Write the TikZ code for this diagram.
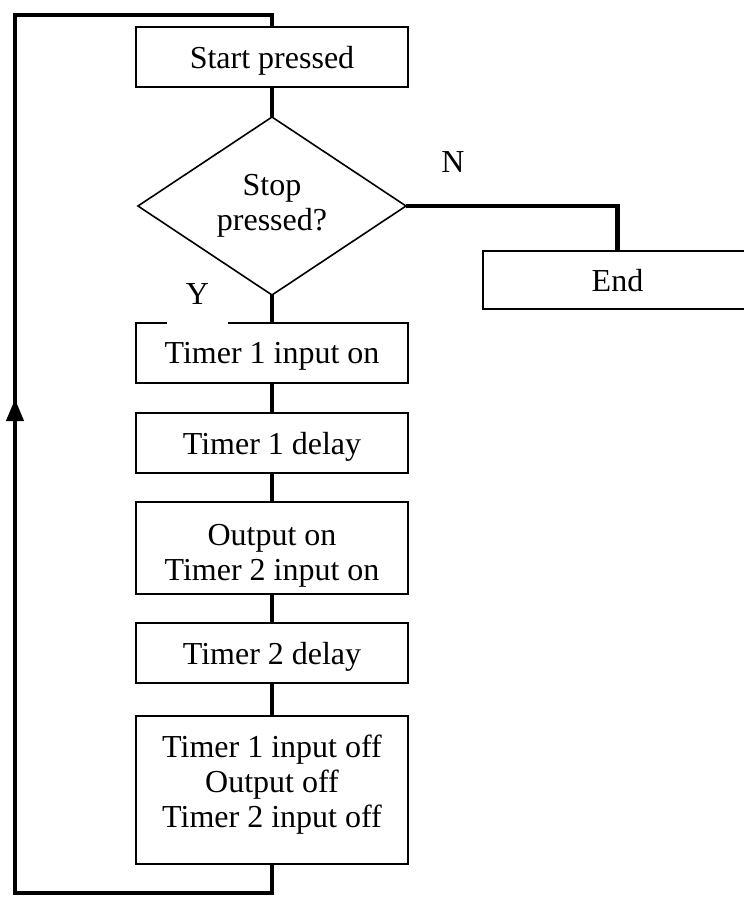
\documentclass[tikz,border=0pt]{standalone}
\usepackage{fontspec}
\setmainfont{Liberation Serif}
\usetikzlibrary{shapes.geometric,arrows.meta}
% multi-line box text, first baseline shifted by #1 from the box centre
\newcommand\boxlines[2]{\raisebox{#1}[0pt][0pt]{\begin{tabular}[t]{@{}c@{}}#2\end{tabular}}}
\begin{document}
\begin{tikzpicture}[x=1pt,y=-1pt,
  every node/.style={font=\fontsize{32}{35}\selectfont, inner sep=0pt, outer sep=0pt},
  stepbox/.style={draw, line width=1.8pt, minimum width=272pt, minimum height=60pt, text depth=0pt},
  decision/.style={draw, diamond, line width=1.6pt, minimum width=268pt, minimum height=178pt, align=center},
  conn/.style={line width=4.2pt, line join=miter},
  ylabel/.style={fill=white, minimum width=61pt, minimum height=60pt},
]
\path[use as bounding box, fill=white] (0,0) rectangle (744,898);

% process boxes
\node[stepbox] (start) at (272,57) {Start pressed};
\node[stepbox] (t1on) at (272,353) {Timer 1 input on};
\node[stepbox] (t1d) at (272,443) {Timer 1 delay};
\node[stepbox, minimum height=92pt] (out) at (272,548) {\boxlines{3pt}{Output on\\Timer 2 input on}};
\node[stepbox] (t2d) at (272,653) {Timer 2 delay};
\node[stepbox, minimum height=148pt] (off) at (272,790) {\boxlines{33pt}{Timer 1 input off\\Output off\\Timer 2 input off}};
\node[stepbox, minimum width=269pt, minimum height=58pt] (end) at (617.5,280) {End};

% branch labels
\node[ylabel] (ylab) at (197.5,294) {Y};
\node (nlab) at (453,162) {N};

% decision
\node[decision] (dec) at (272,206) {Stop\\pressed?};

% loop corners and arrow tip
\coordinate (ll) at (15,893);
\coordinate (lt) at (15,15);
\coordinate (atip) at (15,399);

% connectors
\draw[conn] (start.south) -- (dec.north);
\draw[conn] (dec.south) -- (t1on.north);
\draw[conn] (t1on.south) -- (t1d.north);
\draw[conn] (t1d.south) -- (out.north);
\draw[conn] (out.south) -- (t2d.north);
\draw[conn] (t2d.south) -- (off.north);
\draw[conn] (dec.east) -| (end.north);
\draw[conn] (off.south) |- (ll) -- (lt) -| (start.north);
\draw[conn, -{Triangle[width=17pt,length=22pt]}] (ll) -- (atip);
\end{tikzpicture}
\end{document}
